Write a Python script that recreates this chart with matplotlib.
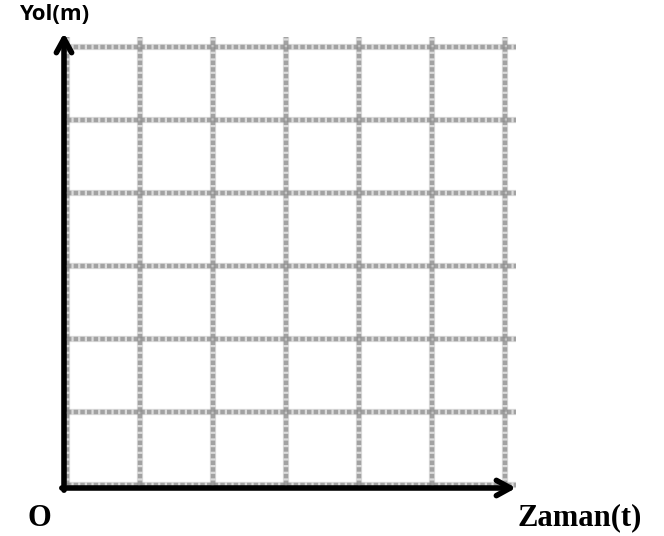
import matplotlib.pyplot as plt

# grid (blank graph paper) and axis labels
x_grid = [0, 1, 2, 3, 4, 5, 6]
y_grid = [0, 1, 2, 3, 4, 5, 6]
x_label = "Zaman(t)"
y_label = "Yol(m)"
origin_label = "O"

px = 73.0  # pixels per grid unit
ox, oy = 67, 485  # grid origin in pixels (from top-left)
W, H = 664, 536

fig = plt.figure(figsize=(W / 100, H / 100), dpi=100)
ax = fig.add_axes([0, 0, 1, 1])
ax.set_xlim(-ox / px, (W - ox) / px)
ax.set_ylim((oy - H) / px, oy / px)
ax.axis("off")

gmax_x = (516 - ox) / px
gmax_y = (oy - 37) / px

# dotted gray grid (soft, blurred look)
for xv in x_grid:
    ax.plot([xv, xv], [0, gmax_y], color="#9a9a9a", lw=4.5, alpha=0.35,
            solid_capstyle="butt", zorder=1)
    ax.plot([xv, xv], [0, gmax_y], color="#8a8a8a", lw=3.2, alpha=0.7,
            linestyle=(0, (1.0, 0.5)), zorder=1)
for yv in y_grid:
    ax.plot([0, gmax_x], [yv, yv], color="#9a9a9a", lw=4.5, alpha=0.35,
            solid_capstyle="butt", zorder=1)
    ax.plot([0, gmax_x], [yv, yv], color="#8a8a8a", lw=3.2, alpha=0.7,
            linestyle=(0, (1.0, 0.5)), zorder=1)

# axes with arrows
x0 = (64 - ox) / px
y0 = (oy - 488) / px
arrow = dict(arrowstyle="->,head_length=1.0,head_width=0.55", lw=4,
             color="black", shrinkA=0, shrinkB=0)
ax.annotate("", xy=(x0, (oy - 33) / px), xytext=(x0, y0 - 0.03),
            arrowprops=arrow, zorder=3)
ax.annotate("", xy=((516 - ox) / px, y0), xytext=(x0 - 0.03, y0),
            arrowprops=arrow, zorder=3)

ax.text((54 - ox) / px, (oy - 15) / px, y_label, ha="center", va="center",
        fontsize=16, fontweight="bold", family="Open Sans")
ax.text((39 - ox) / px, (oy - 518) / px, origin_label, ha="center", va="center",
        fontsize=22, fontweight="bold", family="Liberation Serif")
ax.text((580 - ox) / px, (oy - 518) / px, x_label, ha="center", va="center",
        fontsize=22, fontweight="bold", family="Liberation Serif")

fig.savefig("out.png", dpi=100)
